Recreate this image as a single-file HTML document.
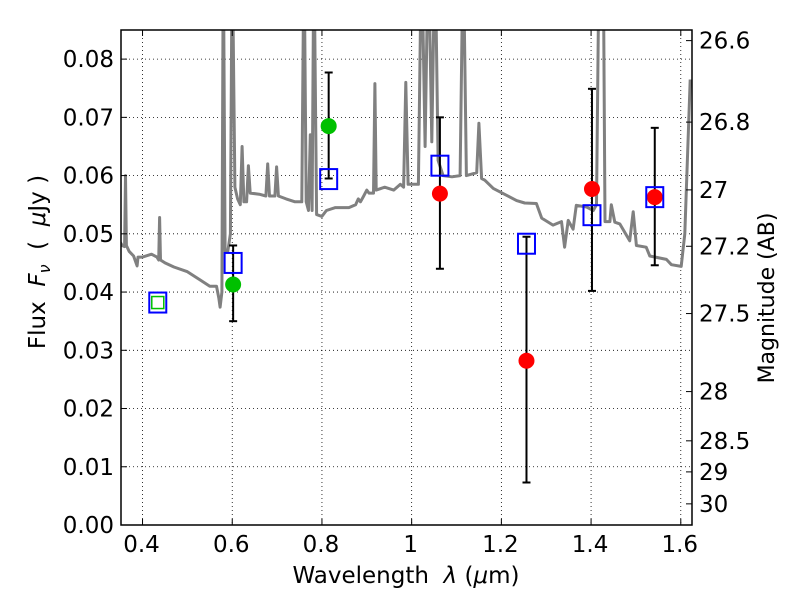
<!DOCTYPE html>
<html><head><meta charset="utf-8"><style>
body{margin:0;background:#fff}
svg text{font-family:"DejaVu Sans","Liberation Sans",sans-serif;fill:#000}
</style></head><body>
<svg id="chart" width="800" height="600" xmlns="http://www.w3.org/2000/svg">
<rect width="800" height="600" fill="#fff"/>
<defs><clipPath id="clip"><rect x="121" y="30" width="571" height="495"/></clipPath></defs>
<g id="grid"></g>
<g id="spec" clip-path="url(#clip)"></g>
<g id="marks"></g>
<rect x="121" y="30" width="571" height="495" fill="none" stroke="#000" stroke-width="1.5"/>
<g id="axes"></g>
<text x="406" y="583" font-size="23" text-anchor="middle">Wavelength&#160;&#160;<tspan font-style="italic">λ</tspan>&#160;(<tspan font-style="italic">μ</tspan>m)</text>
<text transform="translate(45,262) rotate(-90)" font-size="23" text-anchor="middle">Flux&#160;&#160;<tspan font-style="italic">F</tspan><tspan font-style="italic" font-size="16" dy="5">ν</tspan><tspan dy="-5">&#160;&#160;(&#160;&#160;</tspan><tspan font-style="italic">μ</tspan>Jy&#160;)</text>
<text transform="translate(774,298) rotate(-90)" font-size="22" text-anchor="middle">Magnitude (AB)</text>
</svg>
<script>
const xTicks=[0.4,0.6,0.8,1.0,1.2,1.4,1.6];
const xTickLabels=["0.4","0.6","0.8","1","1.2","1.4","1.6"];
const yTicks=[0,0.01,0.02,0.03,0.04,0.05,0.06,0.07,0.08];
const yTickLabels=["0.00","0.01","0.02","0.03","0.04","0.05","0.06","0.07","0.08"];
const magTicks=[26.6,26.8,27,27.2,27.5,28,28.5,29,30];
const magTickLabels=["26.6","26.8","27","27.2","27.5","28","28.5","29","30"];
const specLam=[0.35,0.355,0.36,0.362,0.364,0.37,0.38,0.388,0.39,0.40,0.42,0.432,0.436,0.438,0.44,0.45,0.47,0.50,0.53,0.55,0.565,0.57,0.573,0.577,0.58,0.584,0.59,0.596,0.60,0.606,0.612,0.618,0.622,0.626,0.632,0.636,0.64,0.66,0.675,0.679,0.683,0.695,0.699,0.703,0.72,0.74,0.755,0.76,0.765,0.77,0.774,0.778,0.782,0.788,0.80,0.81,0.83,0.86,0.875,0.881,0.886,0.893,0.90,0.905,0.915,0.918,0.921,0.94,0.96,0.975,0.982,0.987,0.992,1.0,1.015,1.022,1.03,1.037,1.045,1.052,1.059,1.07,1.09,1.108,1.115,1.122,1.145,1.15,1.156,1.163,1.182,1.212,1.234,1.252,1.278,1.29,1.315,1.334,1.341,1.349,1.36,1.367,1.39,1.405,1.412,1.418,1.427,1.431,1.442,1.445,1.453,1.464,1.486,1.494,1.501,1.523,1.531,1.568,1.579,1.601,1.609,1.621];
const specFlux=[.0486,.048,.0478,.060,.048,.047,.0462,.0445,.046,.046,.0465,.046,.0455,.0528,.0455,.045,.0443,.0435,.042,.041,.041,.039,.0374,.040,.1,.047,.047,.05,.1,.058,.056,.055,.065,.0555,.0555,.0617,.057,.0568,.0565,.062,.0565,.0565,.0615,.0565,.056,.0555,.0555,.1,.0555,.054,.067,.054,.1,.0533,.053,.054,.0545,.0545,.055,.056,.0555,.0565,.0575,.057,.057,.0758,.0575,.058,.0575,.0585,.058,.076,.0585,.0585,.0585,.1,.065,.1,.0658,.1,.0626,.060,.0598,.060,.1,.060,.0605,.069,.0595,.0592,.0578,.0566,.0557,.0553,.0552,.0527,.0515,.0521,.0477,.0523,.0508,.0549,.0546,.054,.055,.1,.1,.0521,.0521,.055,.052,.0517,.0488,.0538,.048,.0477,.0462,.0456,.0447,.0444,.05,.0765];
const sqLam=[0.434,0.602,0.815,1.063,1.256,1.402,1.542];
const sqFlux=[0.0382,0.045,0.0594,0.0617,0.0483,0.0532,0.0563];
const greenLam=[0.602,0.815];
const greenFlux=[0.0413,0.0685];
const greenLo=[0.035,0.0595];
const greenHi=[0.048,0.0777];
const redLam=[1.063,1.256,1.402,1.542];
const redFlux=[0.0569,0.0282,0.0577,0.0563];
const redLo=[0.044,0.0073,0.0402,0.0446];
const redHi=[0.070,0.0495,0.0749,0.0682];
const greenSqLam=[0.434];
const greenSqFlux=[0.0382];

const X0=121,X1=692,Y0=525,Y1=30,xmin=0.352,xmax=1.625,ymin=0,ymax=0.085;
const xs=v=>X0+(v-xmin)/(xmax-xmin)*(X1-X0);
const ys=v=>Y0-(v-ymin)/(ymax-ymin)*(Y0-Y1);
const mag2flux=m=>Math.pow(10,(23.9-m)/2.5);
const NS="http://www.w3.org/2000/svg";
function mk(tag,attrs,parent){const e=document.createElementNS(NS,tag);for(const k in attrs)e.setAttribute(k,attrs[k]);parent.appendChild(e);return e;}
const grid=document.getElementById('grid'),axes=document.getElementById('axes'),spec=document.getElementById('spec'),marks=document.getElementById('marks');
xTicks.forEach((t,i)=>{const x=xs(t);
 const g=mk('line',{x1:x,x2:x,y1:Y1,y2:Y0,stroke:'#000','stroke-width':0.8,'stroke-dasharray':'1,3'},grid);
 
 
 mk('line',{x1:x,x2:x,y1:Y0,y2:Y0-6,stroke:'#000'},axes);
 mk('line',{x1:x,x2:x,y1:Y1,y2:Y1+6,stroke:'#000'},axes);
 const tx=mk('text',{x:x-1,y:Y0+27,'font-size':23,'text-anchor':'middle'},axes);tx.textContent=xTickLabels[i];
 
 });
yTicks.forEach((t,i)=>{const y=ys(t);
 if(t>0){const g=mk('line',{x1:X0,x2:X1,y1:y,y2:y,stroke:'#000','stroke-width':0.8,'stroke-dasharray':'1,3'},grid);
 
 }
 mk('line',{x1:X0,x2:X0+6,y1:y,y2:y,stroke:'#000'},axes);
 const tx=mk('text',{x:X0-7,y:y+8,'font-size':23,'text-anchor':'end'},axes);tx.textContent=yTickLabels[i];
 
 });
magTicks.forEach((m,i)=>{const y=ys(mag2flux(m));
 mk('line',{x1:X1,x2:X1-6,y1:y,y2:y,stroke:'#000'},axes);
 const tx=mk('text',{x:X1+7,y:y+8,'font-size':23},axes);tx.textContent=magTickLabels[i];
 
 });
const pts=specLam.map((l,i)=>xs(l).toFixed(1)+','+ys(specFlux[i]).toFixed(1)).join(' ');
const pl=mk('polyline',{points:pts,fill:'none',stroke:'#808080','stroke-width':3,'stroke-linejoin':'round'},spec);


function errbar(l,lo,hi){const x=xs(l);
 const g=mk('g',{},marks);
 
 
 mk('line',{x1:x,x2:x,y1:ys(lo),y2:ys(hi),stroke:'#000','stroke-width':2},g);
 mk('line',{x1:x-4,x2:x+4,y1:ys(lo),y2:ys(lo),stroke:'#000','stroke-width':2},g);
 mk('line',{x1:x-4,x2:x+4,y1:ys(hi),y2:ys(hi),stroke:'#000','stroke-width':2},g);}
greenLam.forEach((l,i)=>errbar(l,greenLo[i],greenHi[i]));
redLam.forEach((l,i)=>errbar(l,redLo[i],redHi[i]));
greenSqLam.forEach((l,i)=>{const r=mk('rect',{x:xs(l)-6,y:ys(greenSqFlux[i])-6,width:12,height:12,fill:'none',stroke:'#00c000','stroke-width':1.5},marks);
 
 });
greenLam.forEach((l,i)=>{const c=mk('circle',{cx:xs(l),cy:ys(greenFlux[i]),r:8,fill:'#00c000'},marks);
 
 });
redLam.forEach((l,i)=>{const c=mk('circle',{cx:xs(l),cy:ys(redFlux[i]),r:8,fill:'#ff0000'},marks);
 
 });
sqLam.forEach((l,i)=>{const r=mk('rect',{x:xs(l)-8.5,y:ys(sqFlux[i])-10,width:17,height:20,fill:'none',stroke:'#0000ff','stroke-width':2},marks);
 
 });
</script>
</body></html>
